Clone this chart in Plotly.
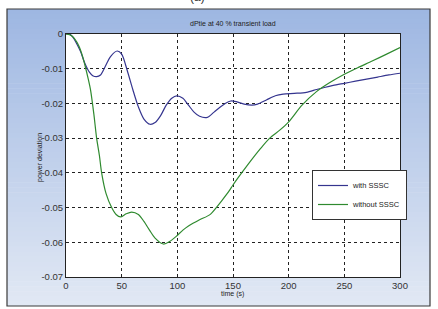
import plotly.graph_objects as go

# ---- data ----
t_with = [0, 3, 6, 10, 13, 17, 21, 24, 27.5, 31, 35, 40, 46, 50, 55, 60, 65, 70, 75.5, 80, 85, 90, 95,
          99.5, 105, 110, 115, 120, 127, 133, 138, 143, 148, 153, 160, 167, 172, 180, 188, 195, 205,
          216, 225, 232, 240, 250, 260, 270, 280, 290, 300]
p_with = [0, 0, -0.0008, -0.003, -0.005, -0.0085, -0.011, -0.012, -0.0123, -0.0118, -0.0095, -0.0065,
          -0.0049, -0.0058, -0.0105, -0.016, -0.021, -0.0245, -0.026, -0.0255, -0.0235, -0.0205, -0.0185,
          -0.0178, -0.0185, -0.0205, -0.0225, -0.0237, -0.024, -0.0225, -0.0212, -0.020, -0.0193, -0.0195,
          -0.0202, -0.0205, -0.0202, -0.019, -0.0178, -0.0173, -0.0171, -0.0168, -0.016, -0.0154, -0.0148,
          -0.0142, -0.0136, -0.013, -0.0124, -0.0118, -0.0113]

t_without = [0, 5, 10, 14, 17, 20, 22, 25, 27.5, 30, 32, 36, 41, 45, 49, 54, 59, 65, 70, 75, 80, 87.5,
             93, 99, 105, 110, 120, 129, 135, 140, 147, 150, 163, 175, 183, 192, 200, 212, 225, 237,
             250, 262, 275, 288, 300]
p_without = [0, -0.0005, -0.0025, -0.0055, -0.009, -0.013, -0.016, -0.023, -0.030, -0.035, -0.040,
             -0.046, -0.050, -0.052, -0.0527, -0.0518, -0.0513, -0.052, -0.054, -0.0565, -0.0588, -0.0605,
             -0.0598, -0.0583, -0.0565, -0.0553, -0.0535, -0.0521, -0.050, -0.048, -0.045, -0.0435,
             -0.0378, -0.0329, -0.030, -0.0277, -0.0253, -0.0205, -0.0166, -0.014, -0.0116, -0.0097,
             -0.0078, -0.0058, -0.0039]

x_ticks = [0, 50, 100, 150, 200, 250, 300]
y_ticks = [0, -0.01, -0.02, -0.03, -0.04, -0.05, -0.06, -0.07]
y_tick_labels = ["0", "-0.01", "-0.02", "-0.03", "-0.04", "-0.05", "-0.06", "-0.07"]

W, H = 438, 309
L, R, T, B = 66, 38, 34, 32
pw, ph = W - L - R, H - T - B


def px_x(px):
    return (px - L) / pw


def px_y(py):
    return (H - B - py) / ph


fig = go.Figure()
fig.add_trace(go.Scatter(x=t_with, y=p_with, mode="lines", name="with SSSC",
                         line=dict(color="#35358f", width=1.2, shape="spline", smoothing=0.8)))
fig.add_trace(go.Scatter(x=t_without, y=p_without, mode="lines", name="without SSSC",
                         line=dict(color="#2f8a2f", width=1.2, shape="spline", smoothing=0.8)))

shapes = []
# gradient background panel
top_px, bot_px, left_px, right_px = 9, 306, 7, 430
n = 60
c0 = (158, 183, 226)
c1 = (225, 232, 244)
for i in range(n):
    f = i / (n - 1)
    c = tuple(int(round(c0[k] + (c1[k] - c0[k]) * f)) for k in range(3))
    y0 = top_px + (bot_px - top_px) * i / n
    y1 = top_px + (bot_px - top_px) * (i + 1) / n + 0.6
    shapes.append(dict(type="rect", xref="paper", yref="paper", layer="below",
                       x0=px_x(left_px), x1=px_x(right_px), y0=px_y(min(y1, bot_px)), y1=px_y(y0),
                       line=dict(width=0), fillcolor="rgb(%d,%d,%d)" % c))
shapes.append(dict(type="rect", xref="paper", yref="paper", layer="below",
                   x0=px_x(left_px), x1=px_x(right_px), y0=px_y(bot_px), y1=px_y(top_px),
                   line=dict(width=1.2, color="#3a3a3a"), fillcolor="rgba(0,0,0,0)"))
shapes.append(dict(type="rect", xref="paper", yref="paper", layer="below",
                   x0=0, x1=1, y0=0, y1=1, line=dict(width=0), fillcolor="white"))

font = "Liberation Sans, Arial, sans-serif"
fig.update_layout(
    width=W, height=H,
    margin=dict(l=L, r=R, t=T, b=B, pad=0),
    paper_bgcolor="white", plot_bgcolor="white",
    shapes=shapes,
    showlegend=True,
    legend=dict(x=px_x(312), y=px_y(170), xanchor="left", yanchor="top",
                bgcolor="white", bordercolor="#333", borderwidth=1,
                font=dict(family=font, size=7.5, color="#222"),
                itemwidth=30, tracegroupgap=0),
    xaxis=dict(range=[0, 300], tickvals=x_ticks, ticktext=[str(v) for v in x_ticks],
               showgrid=True, gridcolor="#222", griddash="3px,3px", gridwidth=1,
               showline=True, linecolor="#222", linewidth=1, mirror=True,
               ticks="inside", ticklen=3, tickcolor="#222", zeroline=False,
               tickfont=dict(family=font, size=9.5, color="#333")),
    yaxis=dict(range=[-0.07, 0], tickvals=y_ticks, ticktext=y_tick_labels,
               showgrid=True, gridcolor="#222", griddash="3px,3px", gridwidth=1,
               showline=True, linecolor="#222", linewidth=1, mirror=True,
               ticks="inside", ticklen=3, tickcolor="#222", zeroline=False,
               tickfont=dict(family=font, size=9.5, color="#333")),
    annotations=[
        dict(text="dPtie at 40 % transient load", xref="paper", yref="paper",
             x=0.5, y=px_y(24), showarrow=False, xanchor="center", yanchor="middle",
             font=dict(family=font, size=7, color="#222")),
        dict(text="time (s)", xref="paper", yref="paper",
             x=px_x(232), y=px_y(294), showarrow=False, xanchor="center", yanchor="middle",
             font=dict(family=font, size=7, color="#222")),
        dict(text="power deviation", xref="paper", yref="paper", textangle=-90,
             x=px_x(40), y=px_y(158), showarrow=False, xanchor="center", yanchor="middle",
             font=dict(family=font, size=7, color="#222")),
        dict(text="(a)", xref="paper", yref="paper",
             x=px_x(197), y=px_y(-3), showarrow=False, xanchor="center", yanchor="middle",
             font=dict(family=font, size=12, color="#333")),
    ],
)

fig.write_html("out.html", config={"displayModeBar": False},
               post_script="document.body.style.margin='0';document.body.style.overflow='hidden';")
